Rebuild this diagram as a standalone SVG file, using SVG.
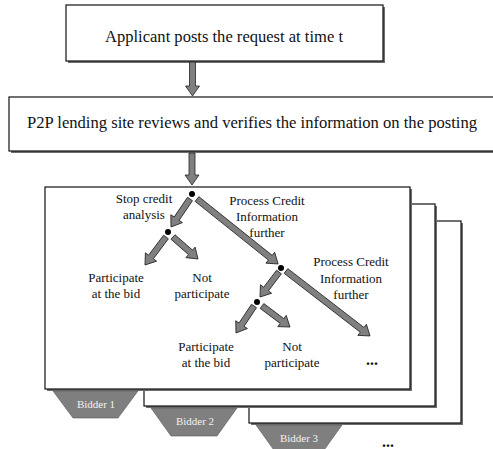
<svg xmlns="http://www.w3.org/2000/svg" width="493" height="449" viewBox="0 0 493 449">
<style>
.box{fill:#fff;stroke:#111;stroke-width:1.2}
.sh{fill:#6e6e6e}
text{font-family:'Liberation Serif','Times New Roman','DejaVu Serif','Noto Serif',serif}
.t{fill:#111}
.big{font-size:16.5px}
.lbl{font-size:13px;text-anchor:middle}
.tab{fill:#7f7f7f;stroke:#555;stroke-width:0.6}
.tabt{font-size:11px;fill:#f2f2f2;text-anchor:middle}
.arr{fill:#808080;stroke:#222;stroke-width:0.8;stroke-linejoin:miter}
.dot{fill:#000}
.dots{font-size:16px;font-weight:bold;fill:#111;text-anchor:middle}
</style>
<rect width="493" height="449" fill="#fff"/>

<g id="node-request">
<rect class="sh" x="68" y="7" width="317" height="56"/>
<rect class="box" x="66" y="5" width="317" height="56"/>
<text class="t big" x="105" y="42" textLength="238" lengthAdjust="spacingAndGlyphs">Applicant posts the request at time t</text>
</g>

<g id="node-review">
<rect class="sh" x="11" y="99" width="495" height="54"/>
<rect class="box" x="9" y="97" width="495" height="54"/>
<text class="t big" x="27" y="128" textLength="450" lengthAdjust="spacingAndGlyphs">P2P lending site reviews and verifies the information on the posting</text>
</g>

<g id="node-bidder3">
<rect class="sh" x="251" y="223" width="212" height="202"/>
<rect class="box" x="249" y="221" width="212" height="202"/>
<polygon class="tab" points="256,425 342,425 322,453 276,453"/>
<text class="tabt" x="299" y="442">Bidder 3</text>
</g>

<g id="node-bidder2">
<rect class="sh" x="146" y="206" width="291" height="202"/>
<rect class="box" x="144" y="204" width="291" height="202"/>
<polygon class="tab" points="151,408 237,408 217,436 171,436"/>
<text class="tabt" x="195" y="425">Bidder 2</text>
</g>

<g id="node-bidder1">
<rect class="sh" x="47" y="189" width="365" height="202"/>
<rect class="box" x="45" y="187" width="365" height="202"/>
<polygon class="tab" points="53,391 138,391 118,418 73,418"/>
<text class="tabt" x="96" y="408">Bidder 1</text>
<text class="t lbl" x="144" y="203">Stop credit</text>
<text class="t lbl" x="144" y="219">analysis</text>
<text class="t lbl" x="267" y="205">Process Credit</text>
<text class="t lbl" x="267" y="221">Information</text>
<text class="t lbl" x="267" y="237">further</text>
<text class="t lbl" x="351" y="266">Process Credit</text>
<text class="t lbl" x="351" y="283">Information</text>
<text class="t lbl" x="351" y="299">further</text>
<text class="t lbl" x="116" y="282">Participate</text>
<text class="t lbl" x="116" y="298">at the bid</text>
<text class="t lbl" x="202" y="282">Not</text>
<text class="t lbl" x="202" y="298">participate</text>
<text class="t lbl" x="206" y="351">Participate</text>
<text class="t lbl" x="206" y="367">at the bid</text>
<text class="t lbl" x="292" y="351">Not</text>
<text class="t lbl" x="292" y="367">participate</text>
<text class="dots" x="372" y="365">...</text>
</g>

<text class="dots" x="388" y="447">...</text>

<g id="connectors">
<g transform="translate(192.5,62) rotate(90)"><path class="arr" d="M0,-3 H24 V-7 L34,0 L24,7 V3 H0 Z"/></g>
<g transform="translate(192,153) rotate(90)"><path class="arr" d="M0,-3 H22 V-7 L32,0 L22,7 V3 H0 Z"/></g>
<g transform="translate(190,199) rotate(124.2)"><path class="arr" d="M0,-3 H23.8 V-7 L33.8,0 L23.8,7 V3 H0 Z"/></g>
<g transform="translate(197,199) rotate(38.7)"><path class="arr" d="M0,-3 H93.9 V-7 L103.9,0 L93.9,7 V3 H0 Z"/></g>
<g transform="translate(166,237) rotate(126.9)"><path class="arr" d="M0,-3 H25 V-7 L35,0 L25,7 V3 H0 Z"/></g>
<g transform="translate(173,237) rotate(41.3)"><path class="arr" d="M0,-3 H23.3 V-7 L33.3,0 L23.3,7 V3 H0 Z"/></g>
<g transform="translate(279,272) rotate(127.2)"><path class="arr" d="M0,-3 H21.4 V-7 L31.4,0 L21.4,7 V3 H0 Z"/></g>
<g transform="translate(286,271) rotate(37.7)"><path class="arr" d="M0,-3 H96.2 V-7 L106.2,0 L96.2,7 V3 H0 Z"/></g>
<g transform="translate(254,306) rotate(123.7)"><path class="arr" d="M0,-3 H22.4 V-7 L32.4,0 L22.4,7 V3 H0 Z"/></g>
<g transform="translate(262,306) rotate(36.9)"><path class="arr" d="M0,-3 H25 V-7 L35,0 L25,7 V3 H0 Z"/></g>
<circle class="dot" cx="192" cy="194" r="3"/>
<circle class="dot" cx="168" cy="232" r="3"/>
<circle class="dot" cx="281" cy="268" r="3"/>
<circle class="dot" cx="257" cy="302" r="3"/>
</g>
</svg>
